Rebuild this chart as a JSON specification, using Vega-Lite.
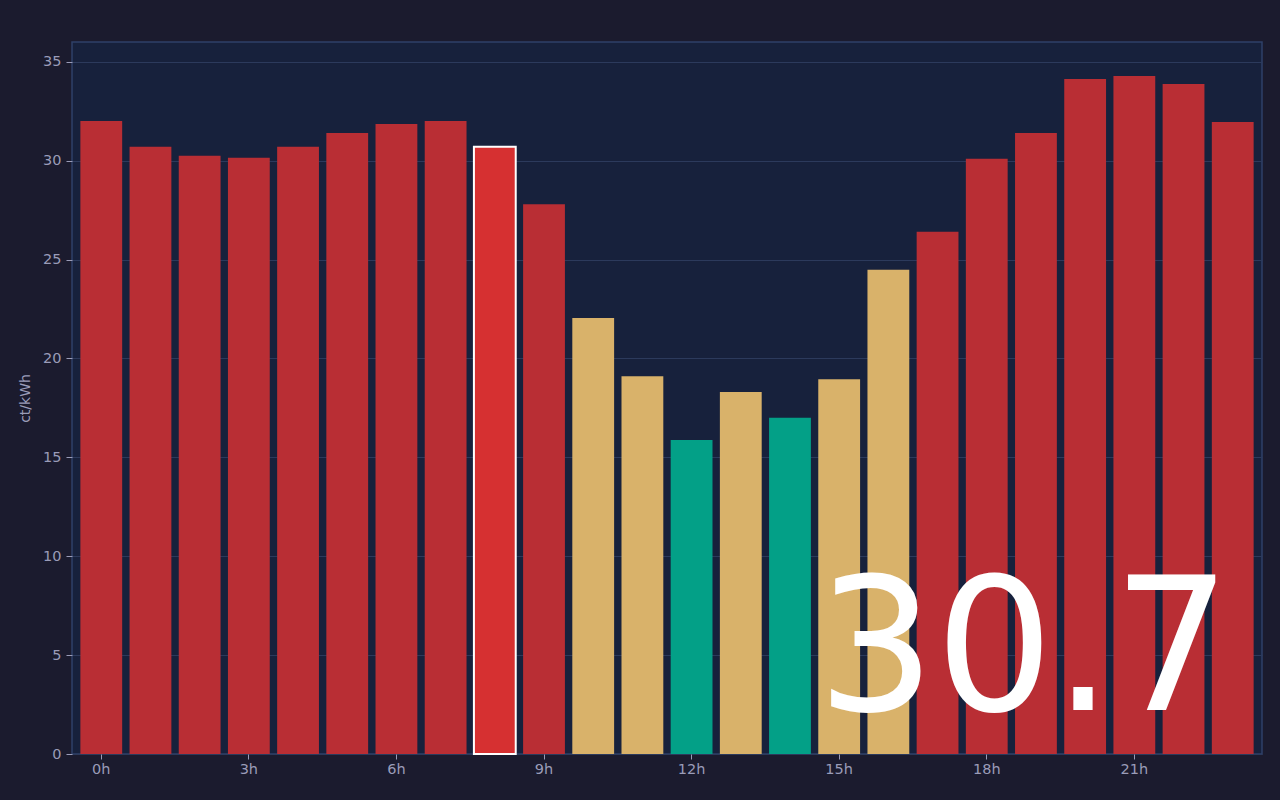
{
  "$schema": "https://vega.github.io/schema/vega-lite/v6.json",
  "width": 1190,
  "height": 712,
  "autosize": {"type": "none"},
  "padding": {"left": 72, "top": 42, "right": 18, "bottom": 46},
  "background": "#1b1b2e",
  "config": {
    "font": "DejaVu Sans",
    "view": {"fill": "#17213c", "stroke": "#2f4068", "strokeWidth": 1.5},
    "axis": {
      "labelColor": "#9a9cb8",
      "labelFont": "DejaVu Sans",
      "labelFontSize": 14.5,
      "titleColor": "#9a9cb8",
      "titleFont": "DejaVu Sans",
      "titleFontSize": 14,
      "titleFontWeight": "normal",
      "tickColor": "#9a9cb8",
      "tickSize": 6,
      "domain": false,
      "gridColor": "#2c3a5c",
      "gridWidth": 1
    }
  },
  "layer": [
    {
      "data": {
        "values": [
          {"hour": 0, "price": 32.0, "level": "high"},
          {"hour": 1, "price": 30.7, "level": "high"},
          {"hour": 2, "price": 30.25, "level": "high"},
          {"hour": 3, "price": 30.15, "level": "high"},
          {"hour": 4, "price": 30.7, "level": "high"},
          {"hour": 5, "price": 31.4, "level": "high"},
          {"hour": 6, "price": 31.85, "level": "high"},
          {"hour": 7, "price": 32.0, "level": "high"},
          {"hour": 8, "price": 30.7, "level": "current"},
          {"hour": 9, "price": 27.8, "level": "high"},
          {"hour": 10, "price": 22.05, "level": "mid"},
          {"hour": 11, "price": 19.1, "level": "mid"},
          {"hour": 12, "price": 15.88, "level": "low"},
          {"hour": 13, "price": 18.3, "level": "mid"},
          {"hour": 14, "price": 17.0, "level": "low"},
          {"hour": 15, "price": 18.95, "level": "mid"},
          {"hour": 16, "price": 24.48, "level": "mid"},
          {"hour": 17, "price": 26.4, "level": "high"},
          {"hour": 18, "price": 30.1, "level": "high"},
          {"hour": 19, "price": 31.4, "level": "high"},
          {"hour": 20, "price": 34.13, "level": "high"},
          {"hour": 21, "price": 34.28, "level": "high"},
          {"hour": 22, "price": 33.88, "level": "high"},
          {"hour": 23, "price": 31.95, "level": "high"}
        ]
      },
      "mark": {"type": "bar"},
      "encoding": {
        "x": {
          "field": "hour",
          "type": "ordinal",
          "scale": {
            "domain": [0,1,2,3,4,5,6,7,8,9,10,11,12,13,14,15,16,17,18,19,20,21,22,23],
            "paddingInner": 0.15,
            "paddingOuter": 0.17
          },
          "axis": {
            "title": null,
            "values": [0, 3, 6, 9, 12, 15, 18, 21],
            "labelExpr": "datum.value + 'h'",
            "labelAngle": 0,
            "tickSize": 5,
            "labelPadding": 3
          }
        },
        "y": {
          "field": "price",
          "type": "quantitative",
          "scale": {"domain": [0, 36], "nice": false},
          "axis": {
            "title": "ct/kWh",
            "values": [0, 5, 10, 15, 20, 25, 30, 35],
            "labelPadding": 5,
            "titlePadding": 10
          }
        },
        "color": {
          "field": "level",
          "type": "nominal",
          "scale": {
            "domain": ["high", "current", "mid", "low"],
            "range": ["#b92e34", "#d63031", "#d9b26a", "#03a087"]
          },
          "legend": null
        },
        "stroke": {
          "condition": {"test": "datum.level === 'current'", "value": "#ffffff"},
          "value": null
        },
        "strokeWidth": {
          "condition": {"test": "datum.level === 'current'", "value": 2},
          "value": 0
        }
      }
    },
    {
      "data": {"values": [{"hour": 19, "price": 2.2, "label": "30.7"}]},
      "mark": {
        "type": "text",
        "fontSize": 186,
        "font": "DejaVu Sans",
        "color": "#ffffff",
        "align": "center",
        "baseline": "alphabetic",
        "dx": -12
      },
      "encoding": {
        "x": {"field": "hour", "type": "ordinal"},
        "y": {"field": "price", "type": "quantitative"},
        "text": {"field": "label", "type": "nominal"}
      }
    }
  ]
}
